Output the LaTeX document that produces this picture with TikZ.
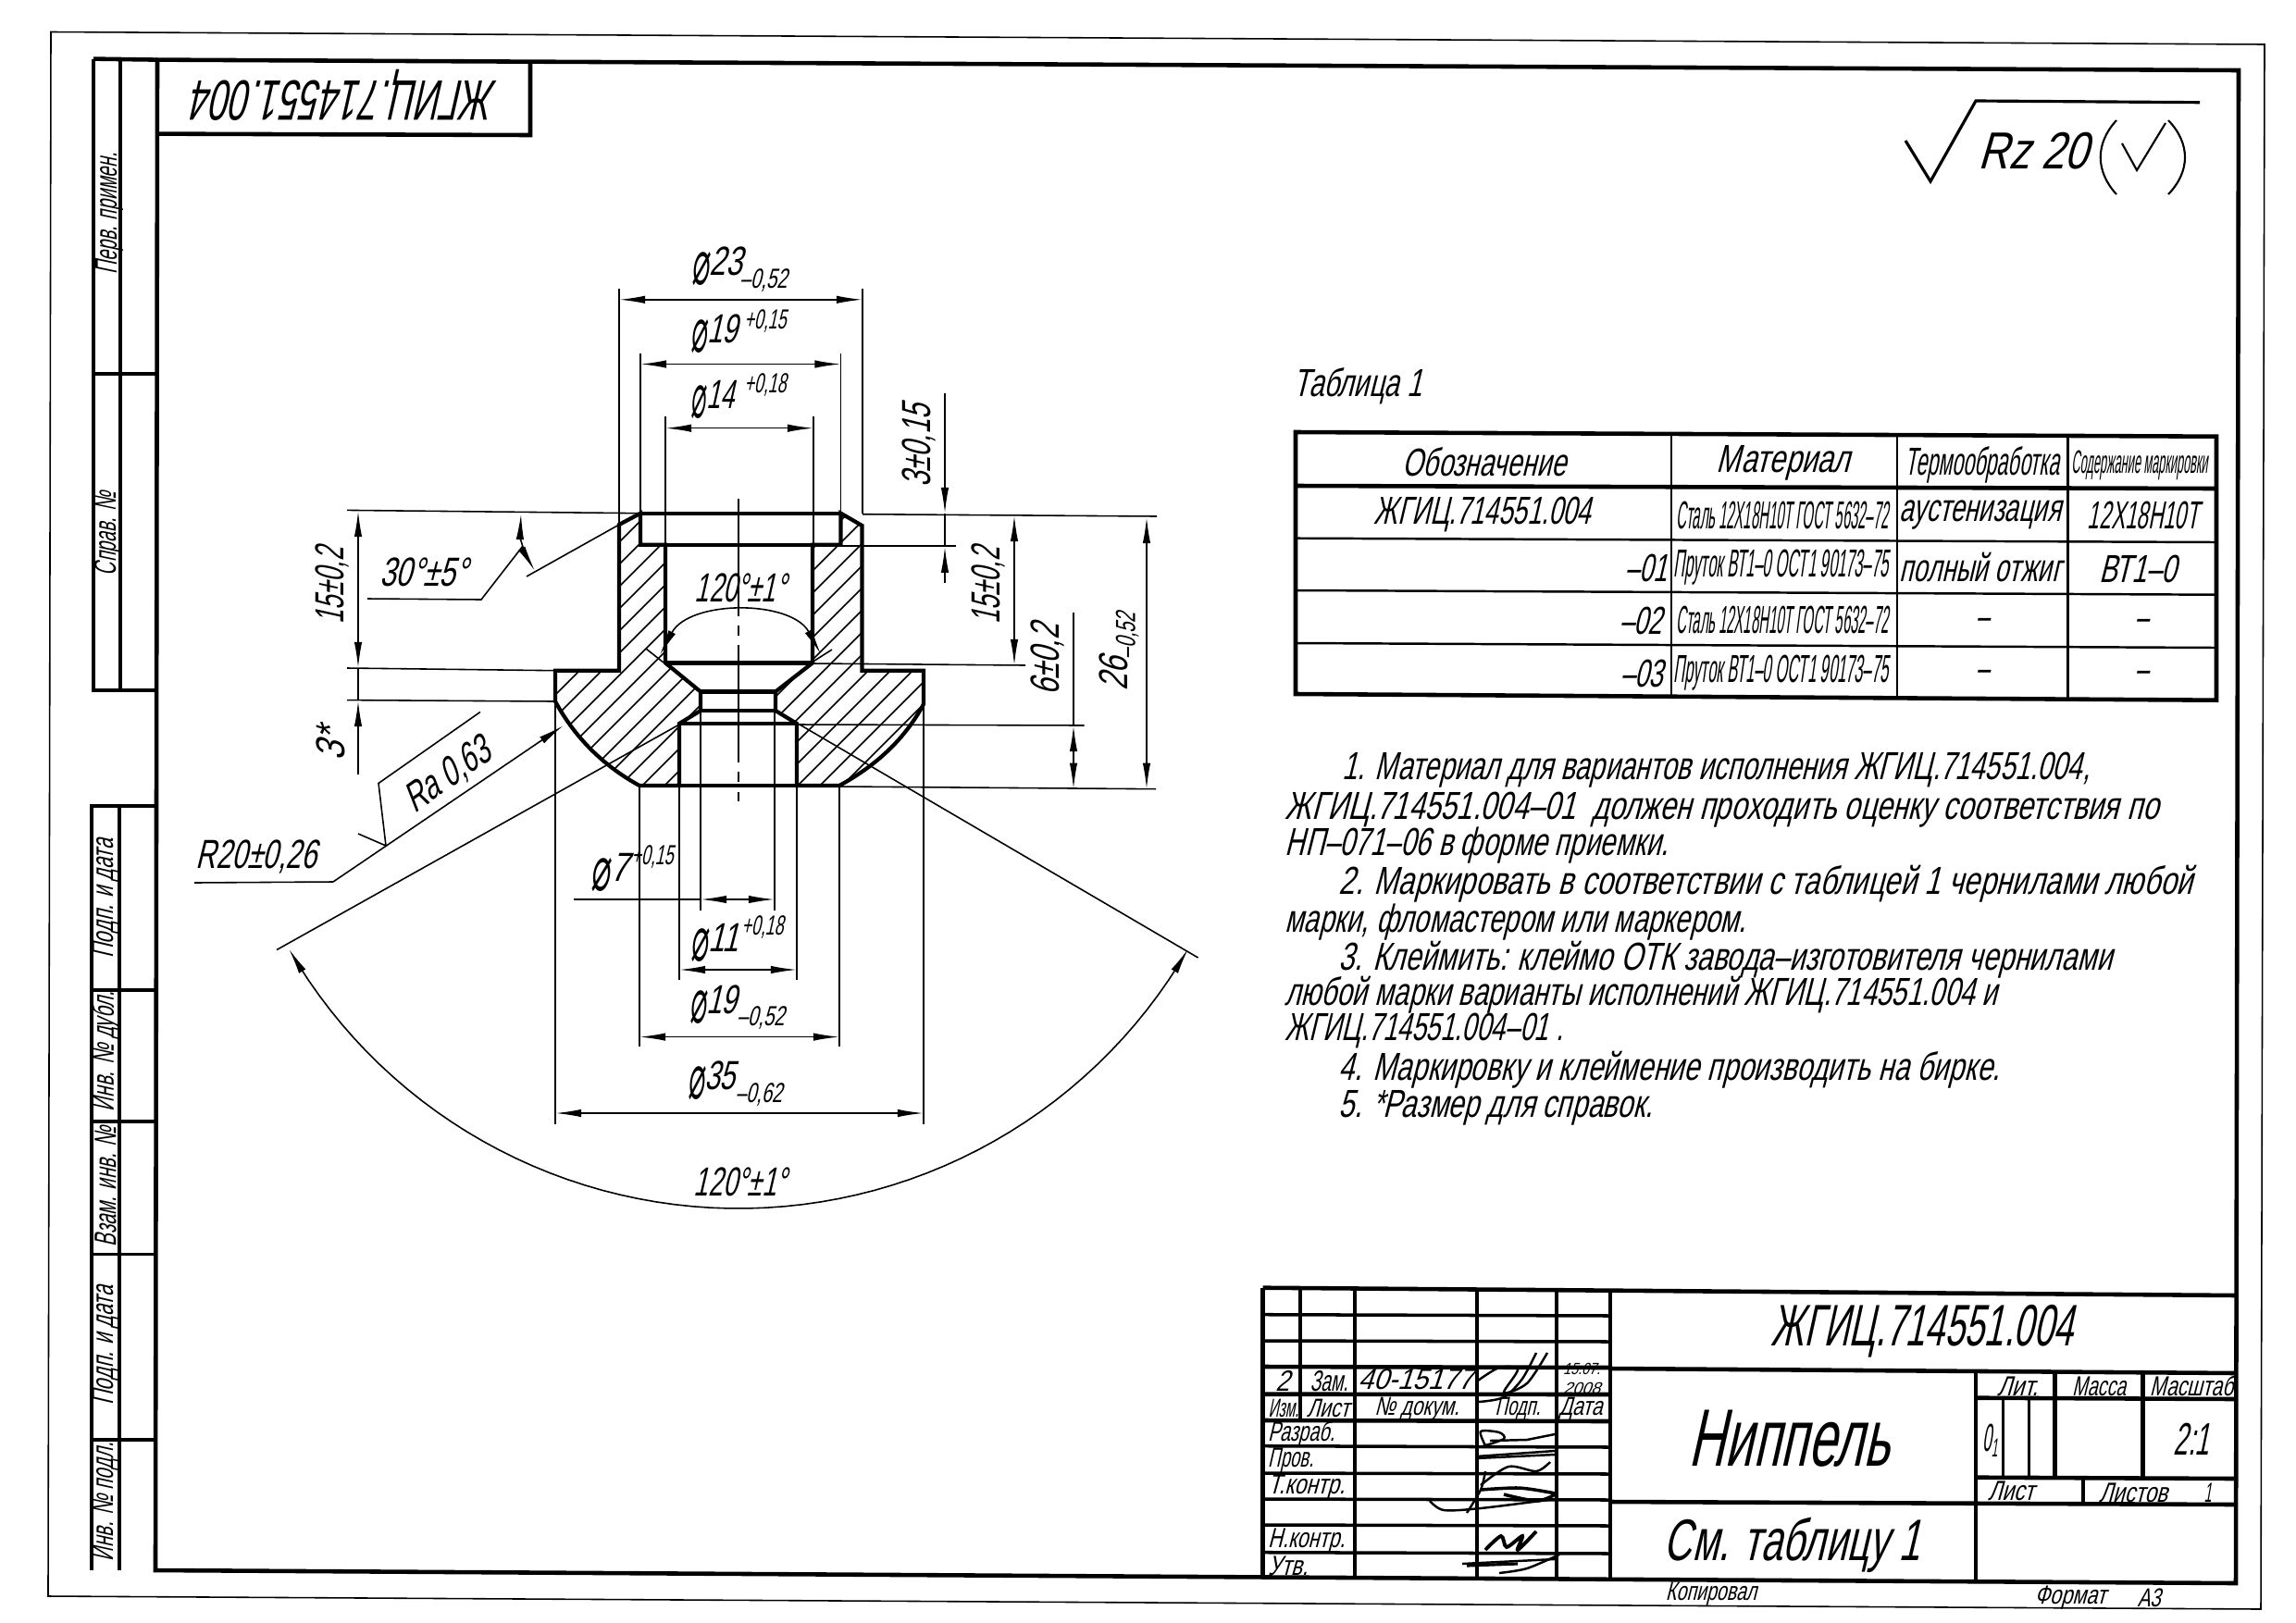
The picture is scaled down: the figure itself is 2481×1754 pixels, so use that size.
\documentclass[tikz,border=0pt]{standalone}
\usepackage{fontspec}
\usepackage{graphicx}
\usepackage{tikz}
\usetikzlibrary{arrows.meta}
\setmainfont[FakeSlant=0.36]{Liberation Sans}
\newfontfamily\diafont[FakeSlant=0.2]{DejaVu Sans}
\newsavebox\fitbox
\newlength\fitlen
% squeeze a text to a given width, in pixels of the sheet
\newcommand{\fitw}[2]{\sbox\fitbox{#2}\setlength\fitlen{\wd\fitbox}\pgfmathsetmacro{\fitf}{#1*0.28453/\fitlen}\scalebox{\fitf}[1]{\usebox\fitbox}}
\newcommand{\dia}{\raisebox{-0.22em}{\scalebox{1}[1.55]{\diafont ⌀}}}
\def\leftsec{(692,554.7) -- (669,567) -- (669,724.7) -- (600,724.7) -- (600,758) .. controls (621,797) and (652.5,828) .. (691,849) -- (734,849) -- (734,782) -- (757,768) -- (757,747.5) -- (719,716.4) -- (719,588.7) -- (692,588.7) -- cycle}
\def\rightsec{(908.6,554.7) -- (931.5,568) -- (931.5,724.7) -- (998,724.7) -- (998,761) .. controls (977,800) and (945.5,828) .. (907,849) -- (861,849) -- (861,782) -- (838,768) -- (838,747.5) -- (878,716.4) -- (878,588.7) -- (908.6,588.7) -- cycle}
\tikzset{
  >={Latex[length=8pt,width=2.4pt]},
  dimline/.style={line width=0.45pt},
  partline/.style={line width=1.2pt,line join=miter},
  frameline/.style={line width=1.3pt},
  gridline/.style={line width=1pt},
  signline/.style={line width=0.7pt},
  txt/.style={inner sep=0pt,font=\fontsize{#1}{#1}\selectfont},
  dimtxt/.style={txt=12.5},
  subtxt/.style={txt=8.5},
  cell/.style={txt=12},
  note/.style={txt=12,anchor=west},
  strip/.style={txt=9.5,rotate=90},
}
\begin{document}
\begin{tikzpicture}[x=0.01cm,y=-0.01cm]
  \useasboundingbox (0,0) rectangle (2481,1754);
  % sheet frames
  \draw[dimline] (55,34.5) -- (2447,48) -- (2443,1739) -- (52,1725) -- cycle;
  \draw[frameline] (170,64.6) -- (2419,76) -- (2416,1711) -- (168,1697) -- cycle;
  % left strip, top
  \draw[frameline] (101,63.6) -- (170,64.6);
  \draw[frameline] (101,63.6) -- (101,746) -- (170,746);
  \draw[frameline] (130,63.6) -- (130,746);
  \draw[gridline] (101,404) -- (170,404);
  \node[strip] at (118,231) {\fitw{131}{Перв. примен.}};
  \node[strip] at (117,577) {\fitw{90}{Справ. №}};
  % left strip, bottom
  \draw[frameline] (168,871) -- (99,871) -- (99,1697);
  \draw[frameline] (129,871) -- (129,1697);
  \draw[gridline] (99,1070) -- (168,1070);
  \draw[gridline] (99,1212) -- (168,1212);
  \draw[gridline] (99,1355.6) -- (168,1355.6);
  \draw[gridline] (99,1556) -- (168,1556);
  \node[strip] at (114,971) {\fitw{129}{Подп. и дата}};
  \node[strip] at (114,1136.5) {\fitw{129}{Инв. № дубл.}};
  \node[strip] at (114,1282.6) {\fitw{129}{Взам. инв. №}};
  \node[strip] at (114,1454) {\fitw{129}{Подп. и дата}};
  \node[strip] at (114,1623) {\fitw{128}{Инв. № подл.}};
  % stamp, upside down
  \draw[frameline] (170,144.6) -- (573,146) -- (573,66);
  \node[txt=17.5,rotate=180] at (374,103) {\fitw{327}{ЖГИЦ.714551.004}};
  % roughness mark
  \draw[line width=0.9pt] (2059,152) -- (2086,196) -- (2135,109) -- (2377,110.7);
  \node[txt=16] at (2197,163) {\fitw{118}{Rz 20}};
  \draw[line width=0.6pt] (2287,130) .. controls (2264,155) and (2264,185) .. (2287,210);
  \draw[line width=0.6pt] (2343,130) .. controls (2367,155) and (2367,185) .. (2343,210);
  \draw[line width=0.6pt] (2293,155) -- (2309,184) -- (2340,133);
  % hatching
  \begin{scope}
    \clip \leftsec;
    \foreach \hx in {331,355,...,883}
      \draw[dimline] (\hx,900) -- ++(400,-400);
  \end{scope}
  \begin{scope}
    \clip \rightsec;
    \foreach \hx in {331,355,...,883}
      \draw[dimline] (\hx,900) -- ++(400,-400);
  \end{scope}
  % part outline
  \draw[partline] \leftsec;
  \draw[partline] \rightsec;
  \draw[partline] (692,554.7) -- (908.6,554.7);
  \draw[partline] (719,588.7) -- (878,588.7);
  \draw[partline] (719,716.4) -- (878,716.4);
  \draw[partline] (757,747.5) -- (838,747.5);
  \draw[partline] (757,768) -- (838,768);
  \draw[partline] (734,782) -- (861,782);
  \draw[partline] (734,849) -- (861,849);
  \draw[dimline,dash pattern=on 36pt off 3pt on 3pt off 3pt] (798,539) -- (798,866);
  % extension lines, top
  \draw[dimline] (669,312) -- (669,567);
  \draw[dimline] (932,312) -- (932,555);
  \draw[dimline] (692,382) -- (692,555);
  \draw[dimline] (908.6,382) -- (908.6,555);
  \draw[dimline] (719,450) -- (719,589);
  \draw[dimline] (879,450) -- (879,589);
  \draw[dimline,<->] (669,323.8) -- (932,323.8);
  \draw[dimline,<->] (692,393.5) -- (908.6,393.5);
  \draw[dimline,<->] (719,462.7) -- (879,462.7);
  \node[dimtxt] at (775,288) {\fitw{54}{\dia 23}};
  \node[subtxt] at (825,303) {\fitw{51}{–0,52}};
  \node[dimtxt] at (772,361) {\fitw{50}{\dia 19}};
  \node[subtxt] at (827,346.6) {\fitw{45}{+0,15}};
  \node[dimtxt] at (770,432) {\fitw{46}{\dia 14}};
  \node[subtxt] at (827,416) {\fitw{45}{+0,18}};
  % dimensions on the left
  \draw[dimline] (375,551.4) -- (692,554.7);
  \draw[dimline] (375,722) -- (600,724.7);
  \draw[dimline] (375,756.6) -- (600,758);
  \draw[dimline,<->] (387,552) -- (387,722);
  \draw[dimline] (387,722) -- (387,757);
  \draw[dimline,->] (387,837) -- (387,757);
  \node[dimtxt,rotate=90] at (359,633) {\fitw{82}{15±0,2}};
  \node[dimtxt,rotate=90] at (357,805) {\fitw{35}{3*}};
  % chamfer angle
  \draw[dimline] (569,623) -- (669,567);
  \draw[dimline,<->] (563,555) .. controls (562,580) and (568,600) .. (578,617);
  \draw[dimline] (397,647) -- (520,648) -- (565,590);
  \node[dimtxt] at (457.5,618) {\fitw{94}{30°±5°}};
  % cone angle
  \draw[dimline] (698,701) -- (717,716);
  \draw[dimline] (899,702) -- (877,716);
  \draw[dimline,<->] (713,708) .. controls (745,648) and (855,648) .. (887,707);
  \node[dimtxt] at (800,635.6) {\fitw{98}{120°±1°}};
  % dimensions on the right
  \draw[dimline] (932,555.7) -- (1250,558);
  \draw[dimline] (908.6,590) -- (1032.7,590);
  \draw[dimline] (878,717) -- (1108,719);
  \draw[dimline] (861,783) -- (1171.7,784);
  \draw[dimline] (907,850) -- (1249,852.7);
  \draw[dimline,->] (1021,425) -- (1021,555);
  \draw[dimline] (1021,555) -- (1021,590.7);
  \draw[dimline,->] (1021,630) -- (1021,590.7);
  \draw[dimline,<->] (1096,557) -- (1096,719);
  \draw[dimline] (1160,661.7) -- (1160,784);
  \draw[dimline,<->] (1160,784) -- (1160,852.7);
  \draw[dimline,<->] (1239,559) -- (1239,852.7);
  \node[dimtxt,rotate=90] at (993,482) {\fitw{89}{3±0,15}};
  \node[dimtxt,rotate=90] at (1068,633) {\fitw{83}{15±0,2}};
  \node[dimtxt,rotate=90] at (1131.7,713) {\fitw{77}{6±0,2}};
  \node[dimtxt,rotate=90] at (1203,728) {\fitw{36}{26}};
  \node[subtxt,rotate=90] at (1218,687) {\fitw{50}{–0,52}};
  % radius and finish
  \draw[dimline,->] (360,953) -- (609,784);
  \draw[dimline] (210,954) -- (360,953);
  \node[dimtxt] at (277,925.6) {\fitw{130}{R20±0,26}};
  \draw[dimline] (387,901) -- (417,914) -- (409,846.5) -- (519,769.4);
  \node[dimtxt,rotate=35] at (484,838.6) {\fitw{105}{Ra 0,63}};
  % cone angle, lower
  \draw[dimline] (299,1026.5) -- (734,783);
  \draw[dimline] (1294.6,1035) -- (864,783);
  \draw[dimline,<->] plot[domain=150:30,samples=60] ({798+561*cos(\x)},{745+561*sin(\x)});
  \node[dimtxt] at (800,1277.5) {\fitw{100}{120°±1°}};
  % extension lines, bottom
  \draw[dimline] (600,758) -- (600,1215);
  \draw[dimline] (998,761) -- (998,1215);
  \draw[dimline] (691,849) -- (691,1131);
  \draw[dimline] (907,849) -- (907,1131);
  \draw[dimline] (734,849) -- (734,1059);
  \draw[dimline] (861,849) -- (861,1059);
  \draw[dimline] (757,768) -- (757,984);
  \draw[dimline] (837,768) -- (837,984);
  \draw[dimline] (620,972) -- (757,972);
  \draw[dimline,<->] (757,972) -- (837,972);
  \draw[dimline,<->] (734,1048) -- (861,1048);
  \draw[dimline,<->] (691,1120.6) -- (907,1120.6);
  \draw[dimline,<->] (600,1203) -- (998,1203);
  \node[dimtxt] at (658.6,943) {\fitw{40}{\dia 7}};
  \node[subtxt] at (705,925.6) {\fitw{45}{+0,15}};
  \node[dimtxt] at (772,1019) {\fitw{51}{\dia 11}};
  \node[subtxt] at (824,1001.5) {\fitw{45}{+0,18}};
  \node[dimtxt] at (771,1086) {\fitw{51}{\dia 19}};
  \node[subtxt] at (822,1100) {\fitw{51}{–0,52}};
  \node[dimtxt] at (768.6,1168) {\fitw{51}{\dia 35}};
  \node[subtxt] at (820,1182.6) {\fitw{50}{–0,62}};
  % table
  \node[cell] at (1467,417) {\fitw{139}{Таблица 1}};
  \draw[frameline] (1400,467) -- (2395,471.7) -- (2395,756.7) -- (1400,750) -- cycle;
  \draw[frameline] (1400,525) -- (2395,528);
  \draw[gridline,line width=0.7pt] (1400,581.7) -- (2395,586);
  \draw[gridline,line width=0.7pt] (1400,638) -- (2395,642.7);
  \draw[gridline,line width=0.7pt] (1400,695) -- (2395,700);
  \draw[gridline,line width=0.7pt] (1806,469) -- (1806,753);
  \draw[gridline,line width=0.7pt] (2050,470) -- (2050,755);
  \draw[gridline,line width=0.7pt] (2234.7,471) -- (2234.7,756);
  \node[cell] at (1604,499) {\fitw{177}{Обозначение}};
  \node[cell] at (1927,500) {\fitw{144}{Материал}};
  \node[cell] at (2142,502) {\fitw{167}{Термообработка}};
  \node[txt=10] at (2312,503) {\fitw{147}{Содержание маркировки}};
  \node[cell] at (1602,556) {\fitw{234}{ЖГИЦ.714551.004}};
  \node[cell] at (1926,557) {\fitw{229}{Сталь 12Х18Н10Т ГОСТ 5632–72}};
  \node[cell] at (2140,556.7) {\fitw{174}{аустенизация}};
  \node[cell] at (2316,557) {\fitw{120}{12Х18Н10Т}};
  \node[cell] at (1778.6,614) {\fitw{45}{–01}};
  \node[cell] at (1924.6,612.7) {\fitw{232}{Пруток ВТ1–0 ОСТ1 90173–75}};
  \node[cell] at (2140,613) {\fitw{174}{полный отжиг}};
  \node[cell] at (2310,615) {\fitw{84}{ВТ1–0}};
  \node[cell] at (1773,671) {\fitw{46}{–02}};
  \node[cell] at (1926,670) {\fitw{229}{Сталь 12Х18Н10Т ГОСТ 5632–72}};
  \node[cell] at (2142,674) {\fitw{14}{–}};
  \node[cell] at (2314,675) {\fitw{14}{–}};
  \node[cell] at (1774,728) {\fitw{46}{–03}};
  \node[cell] at (1924.6,727) {\fitw{232}{Пруток ВТ1–0 ОСТ1 90173–75}};
  \node[cell] at (2142,730.7) {\fitw{14}{–}};
  \node[cell] at (2314,731.7) {\fitw{14}{–}};
  % notes
  \node[note] at (1450,832) {\fitw{807}{1. Материал для вариантов исполнения ЖГИЦ.714551.004,}};
  \node[note] at (1388,875) {\fitw{943}{ЖГИЦ.714551.004–01~ должен проходить оценку соответствия по}};
  \node[note] at (1388,914) {\fitw{414}{НП–071–06 в форме приемки.}};
  \node[note] at (1446,955) {\fitw{922}{2. Маркировать в соответствии с таблицей 1 чернилами любой}};
  \node[note] at (1388,997) {\fitw{498}{марки, фломастером или маркером.}};
  \node[note] at (1446,1037) {\fitw{835}{3. Клеймить: клеймо ОТК завода–изготовителя чернилами}};
  \node[note] at (1388,1075) {\fitw{769}{любой марки варианты исполнений ЖГИЦ.714551.004 и}};
  \node[note] at (1388,1114) {\fitw{300}{ЖГИЦ.714551.004–01 .}};
  \node[note] at (1446,1156) {\fitw{714}{4. Маркировку и клеймение производить на бирке.}};
  \node[note] at (1446,1197) {\fitw{339}{5. *Размер для справок.}};
  % title block
  \draw[frameline] (1364.6,1391.7) -- (2418,1400);
  \draw[frameline] (1364.6,1391.7) -- (1364.6,1705);
  \draw[frameline] (1405,1392) -- (1405,1535);
  \draw[frameline] (1464,1392) -- (1464,1705);
  \draw[frameline] (1596,1393) -- (1596,1705);
  \draw[frameline] (1682,1394) -- (1682,1705);
  \draw[frameline] (1740,1395) -- (1740,1706);
  \draw[gridline] (1364.6,1420.7) -- (1740,1422);
  \draw[gridline] (1364.6,1449) -- (1740,1450);
  \draw[frameline] (1364.6,1477) -- (1740,1478);
  \draw[frameline] (1364.6,1506.7) -- (1740,1507);
  \draw[frameline] (1364.6,1535) -- (1740,1536);
  \draw[gridline] (1364.6,1562.7) -- (1740,1564);
  \draw[gridline] (1364.6,1592) -- (1740,1593);
  \draw[gridline] (1364.6,1620) -- (1740,1621);
  \draw[gridline] (1364.6,1648) -- (1740,1649);
  \draw[gridline] (1364.6,1677.7) -- (1740,1679);
  \draw[frameline] (1740,1479) -- (2417,1484);
  \draw[frameline] (1740,1623) -- (2416,1626);
  \draw[frameline] (2135,1481) -- (2135,1708);
  \draw[frameline] (2135,1510.7) -- (2416,1512);
  \draw[frameline] (2135,1596.7) -- (2416,1598);
  \draw[frameline] (2220.7,1482) -- (2220.7,1597);
  \draw[frameline] (2315.4,1483) -- (2315.4,1598);
  \draw[gridline,line width=0.7pt] (2164.5,1511) -- (2164.5,1597);
  \draw[gridline,line width=0.7pt] (2192.6,1511) -- (2192.6,1597);
  \draw[frameline] (2251,1597) -- (2251,1625);
  \node[txt=18] at (2077,1439) {\fitw{326}{ЖГИЦ.714551.004}};
  \node[txt=25] at (1933,1555) {\fitw{217}{Ниппель}};
  \node[txt=18] at (1936.5,1670) {\fitw{277}{См. таблицу 1}};
  \node[txt=8.5] at (2180,1498) {\fitw{44}{Лит.}};
  \node[txt=8.5] at (2268,1498) {\fitw{58}{Масса}};
  \node[txt=8.5] at (2368,1498) {\fitw{90}{Масштаб}};
  \node[txt=12] at (2150.5,1557) {\fitw{17}{0\textsubscript{1}}};
  \node[txt=14] at (2368,1555) {\fitw{39}{2:1}};
  \node[txt=8.5] at (2173,1611.7) {\fitw{50}{Лист}};
  \node[txt=8.5] at (2305,1613) {\fitw{74}{Листов}};
  \node[txt=8.5] at (2385.6,1613) {\fitw{8}{1}};
  \node[txt=8] at (1849,1723) {\fitw{98}{Копировал}};
  \node[txt=8] at (2237,1727) {\fitw{77}{Формат}};
  \node[txt=8] at (2322,1727) {\fitw{25}{А3}};
  \node[txt=9] at (1385.6,1492.7) {\fitw{15}{2}};
  \node[txt=9] at (1436,1492.7) {\fitw{41}{Зам.}};
  \node[txt=9] at (1529.5,1491) {\fitw{124}{40-15177}};
  \node[txt=5,align=center] at (1709,1490) {\fitw{40}{15.07.}\\[1pt]\fitw{40}{2008}};
  \node[txt=8] at (1387,1521.7) {\fitw{33}{Изм.}};
  \node[txt=8] at (1435,1521.7) {\fitw{46}{Лист}};
  \node[txt=8] at (1531,1523) {\fitw{91}{№ докум.}};
  \node[txt=8] at (1640,1523) {\fitw{49}{Подп.}};
  \node[txt=8] at (1708,1523) {\fitw{47}{Дата}};
  \node[txt=8.5,anchor=west] at (1369.5,1550) {\fitw{72}{Разраб.}};
  \node[txt=8.5,anchor=west] at (1369.5,1578) {\fitw{49}{Пров.}};
  \node[txt=8.5,anchor=west] at (1369.5,1607) {\fitw{83}{Т.контр.}};
  \node[txt=8.5,anchor=west] at (1369.5,1665) {\fitw{83}{Н.контр.}};
  \node[txt=8.5,anchor=west] at (1369.5,1692) {\fitw{43}{Утв.}};
  % signatures
  \draw[signline] plot[smooth] coordinates {(1598,1515) (1625,1510) (1645,1490) (1660,1462)};
  \draw[signline] plot[smooth] coordinates {(1597,1492) (1620,1478) (1640,1480) (1625,1505) (1650,1495) (1672,1462)};
  \draw[signline] plot[smooth] coordinates {(1605,1562) (1600,1547) (1620,1548) (1625,1555) (1602,1563)};
  \draw[signline] (1610,1557) -- (1650,1556) -- (1680,1550);
  \draw[signline] (1595,1574) -- (1680,1568);
  \draw[signline] (1595,1576) -- (1680,1572);
  \draw[signline] plot[smooth] coordinates {(1600,1605) (1630,1585) (1660,1590) (1675,1580)};
  \draw[line width=1pt] plot[smooth] coordinates {(1600,1610) (1640,1608) (1670,1612) (1680,1615) (1660,1622) (1625,1615)};
  \draw[signline] plot[smooth] coordinates {(1545,1622) (1560,1632) (1600,1630) (1680,1620)};
  \draw[signline] plot[smooth] coordinates {(1585,1635) (1600,1610) (1605,1590)};
  \draw[line width=1.1pt] plot[smooth] coordinates {(1605,1675) (1622,1660) (1628,1672) (1645,1660) (1640,1675) (1660,1655)};
  \draw[signline] (1580,1690) -- (1680,1685);
  \draw[line width=0.9pt] (1585,1692) -- (1640,1690);
  \draw[signline] plot[smooth] coordinates {(1620,1700) (1650,1695) (1685,1680)};
\end{tikzpicture}
\end{document}
